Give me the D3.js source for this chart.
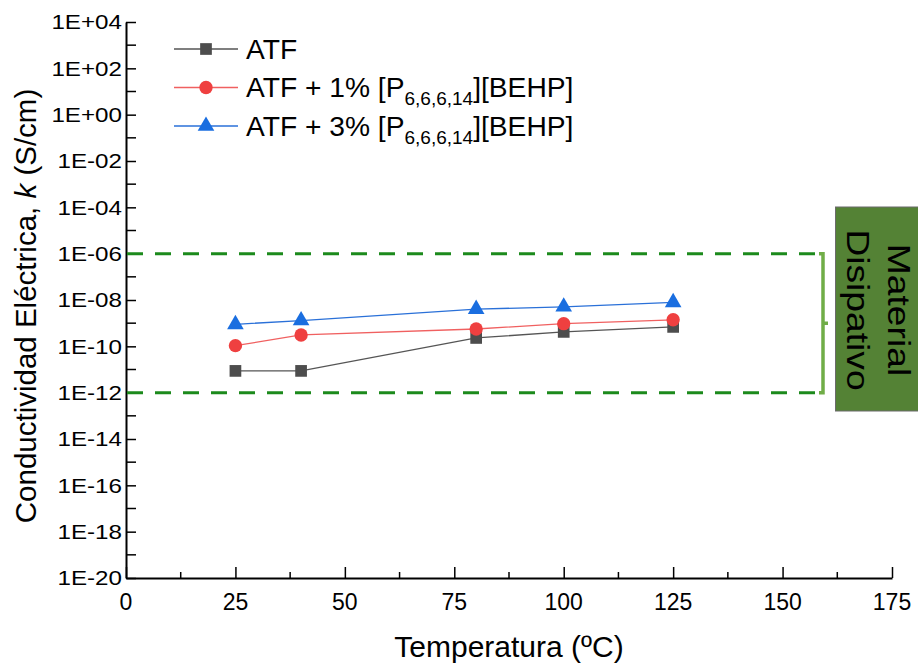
<!DOCTYPE html>
<html>
<head>
<meta charset="utf-8">
<script src="https://cdn.jsdelivr.net/npm/d3@7"></script>
<style>
  body { margin: 0; background: #fff; }
  svg text { font-family: "Liberation Sans", Arial, sans-serif; fill: #000; }
</style>
</head>
<body>
<div id="chart"></div>
<script>
// data
const temps = [25, 40, 80, 100, 125];
const atf = [8.7e-12, 8.7e-12, 2.3e-10, 4.2e-10, 6.9e-10];
const atf1 = [1.07e-10, 3.1e-10, 5.6e-10, 9.5e-10, 1.4e-9];
const atf3 = [8.9e-10, 1.3e-9, 4.0e-9, 5.1e-9, 7.9e-9];
const xTicks = [0, 25, 50, 75, 100, 125, 150, 175];
const yExponents = [4, 2, 0, -2, -4, -6, -8, -10, -12, -14, -16, -18, -20];
const dissipativeRange = [1e-12, 1e-6];

const width = 918, height = 666;
const margin = { top: 22, right: 26, bottom: 88, left: 126 };

const svg = d3.select("#chart").append("svg")
    .attr("width", width)
    .attr("height", height);

const x = d3.scaleLinear().domain([0, 175]).range([margin.left, width - margin.right]);
const y = d3.scaleLog().domain([1e-20, 1e4]).range([height - margin.bottom, margin.top]);

const fmt = (v) => {
  const e = Math.round(Math.log10(v));
  const s = String(Math.abs(e)).padStart(2, "0");
  return "1E" + (e < 0 ? "-" : "+") + s;
};

// y axis: major ticks every 2 decades, minor in between
const yMinor = d3.range(3, -20, -2).map((e) => Math.pow(10, e));
const yAxis = d3.axisRight(y)
    .tickValues(yExponents.map((e) => Math.pow(10, e)))
    .tickFormat("")
    .tickSize(10)
    .tickSizeOuter(0);
const gy = svg.append("g")
    .attr("transform", `translate(${margin.left},0)`)
    .call(yAxis);
gy.append("g").selectAll("line")
    .data(yMinor)
    .enter().append("line")
    .attr("x1", 0).attr("x2", 10)
    .attr("y1", (d) => y(d)).attr("y2", (d) => y(d))
    .attr("stroke", "#000");
gy.selectAll(".tick-label")
    .data(yExponents.map((e) => Math.pow(10, e)))
    .enter().append("text")
    .attr("class", "tick-label")
    .attr("transform", (d) => `translate(-4,${y(d)}) scale(1.18,1)`)
    .attr("dy", "0.36em")
    .attr("text-anchor", "end")
    .style("font-size", "20.5px")
    .text(fmt);

// x axis
const xMinor = d3.range(12.5, 175, 25);
const xAxis = d3.axisTop(x)
    .tickValues(xTicks)
    .tickFormat("")
    .tickSize(11)
    .tickSizeOuter(0);
const gx = svg.append("g")
    .attr("transform", `translate(0,${height - margin.bottom})`)
    .call(xAxis);
gx.append("g").selectAll("line")
    .data(xMinor)
    .enter().append("line")
    .attr("x1", (d) => x(d)).attr("x2", (d) => x(d))
    .attr("y1", 0).attr("y2", -6)
    .attr("stroke", "#000");
gx.selectAll(".tick-label")
    .data(xTicks)
    .enter().append("text")
    .attr("class", "tick-label")
    .attr("x", (d) => x(d))
    .attr("y", 32)
    .attr("text-anchor", "middle")
    .style("font-size", "23px")
    .text((d) => d);

svg.selectAll(".domain").attr("stroke-width", 2);
svg.selectAll(".tick line").attr("stroke-width", 1.5);
gy.selectAll("g > line").attr("stroke-width", 1.5);
gx.selectAll("g > line").attr("stroke-width", 1.5);

// axis titles
svg.append("text")
    .attr("x", x(87.5))
    .attr("y", 657)
    .attr("text-anchor", "middle")
    .style("font-size", "30px")
    .text("Temperatura (ºC)");

const yTitle = svg.append("text")
    .attr("transform", `translate(36,306) rotate(-90)`)
    .attr("text-anchor", "middle")
    .style("font-size", "29.5px");
yTitle.append("tspan").text("Conductividad Eléctrica, ");
yTitle.append("tspan").style("font-style", "italic").text("k");
yTitle.append("tspan").text(" (S/cm)");

// dissipative range
const bandRight = 820;
svg.selectAll(".limit")
    .data(dissipativeRange)
    .enter().append("line")
    .attr("class", "limit")
    .attr("x1", margin.left + 1).attr("x2", bandRight)
    .attr("y1", (d) => y(d)).attr("y2", (d) => y(d))
    .attr("stroke", "#1c8a1c")
    .attr("stroke-width", 3)
    .attr("stroke-dasharray", "16,12");

const bx = 823;
const bTop = y(dissipativeRange[1]), bBot = y(dissipativeRange[0]);
svg.append("path")
    .attr("d", `M${bx - 4},${bTop} H${bx} V${bBot} H${bx - 4} M${bx},${(bTop + bBot) / 2} H${bx + 5}`)
    .attr("fill", "none")
    .attr("stroke", "#70ad47")
    .attr("stroke-width", 3.5);

svg.append("rect")
    .attr("x", 835.5).attr("y", 207)
    .attr("width", 90).attr("height", 204)
    .attr("fill", "#548235")
    .attr("stroke", "#6b6b6b")
    .attr("stroke-width", 1);
[["Material", 888], ["Disipativo", 847]].forEach(([label, bx0]) => {
  svg.append("text")
      .attr("transform", `translate(${bx0},310) rotate(90) scale(1.2,1)`)
      .attr("text-anchor", "middle")
      .style("font-size", "31px")
      .text(label);
});

// series
const series = [
  { name: "ATF", values: atf, line: "#555555", fill: "#4d4d4d", shape: d3.symbolSquare, size: 137 },
  { name: "ATF + 1% ", values: atf1, line: "#f06060", fill: "#ef4040", shape: d3.symbolCircle, size: 140 },
  { name: "ATF + 3% ", values: atf3, line: "#2a70d8", fill: "#1a6ee0", shape: d3.symbolTriangle, size: 120 }
];

const line = d3.line()
    .x((d, i) => x(temps[i]))
    .y((d) => y(d));

series.forEach((s) => {
  svg.append("path")
      .datum(s.values)
      .attr("d", line)
      .attr("fill", "none")
      .attr("stroke", s.line)
      .attr("stroke-width", 1.3);
  svg.selectAll(null)
      .data(s.values)
      .enter().append("path")
      .attr("transform", (d, i) => `translate(${x(temps[i])},${y(d)})`)
      .attr("d", d3.symbol().type(s.shape).size(s.size))
      .attr("fill", s.fill);
});

// legend
const legend = svg.append("g").attr("transform", "translate(174,49)");
series.forEach((s, i) => {
  const g = legend.append("g").attr("transform", `translate(0,${i * 38.5})`);
  g.append("line").attr("x1", 0).attr("x2", 64).attr("stroke", s.line).attr("stroke-width", 1.3);
  g.append("path")
      .attr("transform", "translate(32,0)")
      .attr("d", d3.symbol().type(s.shape).size(s.size))
      .attr("fill", s.fill);
  const t = g.append("text")
      .attr("x", 72)
      .attr("y", 9.5)
      .style("font-size", "28.2px");
  t.append("tspan").text(s.name);
  if (i > 0) {
    t.append("tspan").text("[P");
    t.append("tspan").attr("dy", "8").style("font-size", "19px").text("6,6,6,14");
    t.append("tspan").attr("dy", "-8").text("][BEHP]");
  }
});
</script>
</body>
</html>
